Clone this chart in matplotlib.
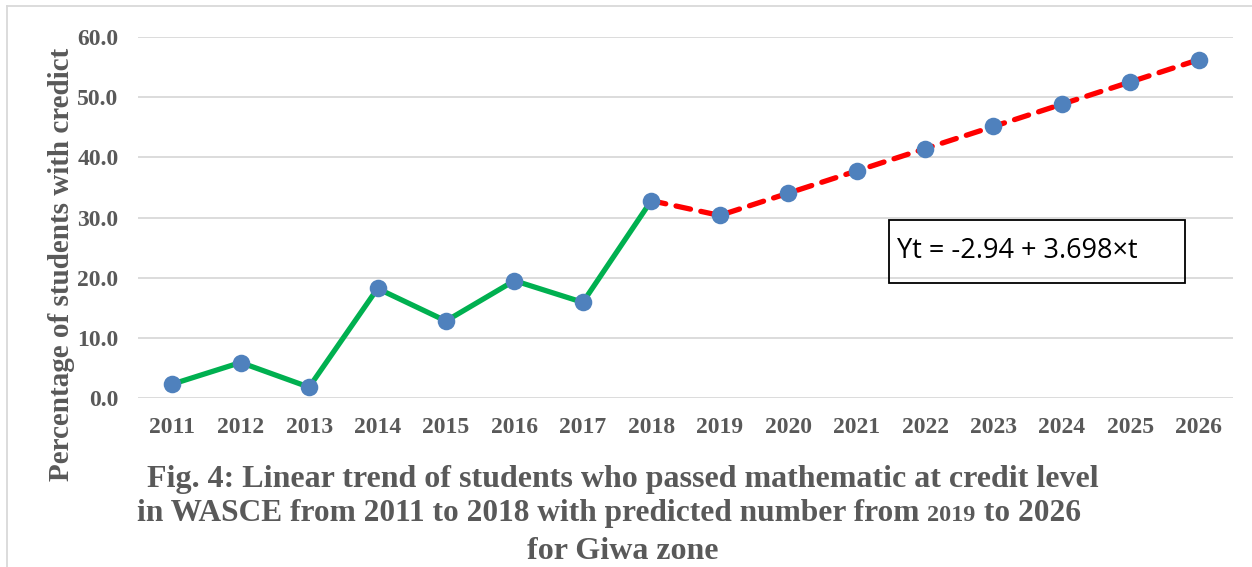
import matplotlib
matplotlib.use("Agg")
import matplotlib.pyplot as plt
from matplotlib.lines import Line2D

# data
years = [str(y) for y in range(2011, 2027)]
actual = [2.3, 5.9, 1.8, 18.2, 12.8, 19.5, 15.9, 32.8]
predicted = [30.34, 34.04, 37.74, 41.44, 45.13, 48.83, 52.53, 56.23]
y_ticks = [0, 10, 20, 30, 40, 50, 60]
equation = "Yt = -2.94 + 3.698×t"

GREY = "#595959"
GRID = "#d9d9d9"
SERIF = ["Liberation Serif", "DejaVu Serif"]

fig = plt.figure(figsize=(12.52, 5.67), dpi=100)
ax = fig.add_axes([138 / 1252, 1 - 398 / 567, (1233 - 138) / 1252, (398 - 37) / 567])

x_act = list(range(len(actual)))
x_pred = list(range(len(actual) - 1, len(actual) + len(predicted)))
y_pred = [actual[-1]] + predicted

ax.plot(x_act, actual, color="#00b050", lw=3.8, solid_capstyle="round", zorder=2)
ax.plot(x_pred, y_pred, color="#ff0000", lw=3.8, ls=(0, (2.8, 2.0)), dash_capstyle="round", zorder=2)
ax.scatter(x_act + x_pred[1:], actual + predicted, s=160, color="#4f81bd", zorder=3, linewidths=0)

ax.set_xlim(-0.5, len(years) - 0.5)
ax.set_ylim(0, 60)
ax.set_yticks(y_ticks)
ax.set_yticklabels([f"{v:.1f}" for v in y_ticks])
ax.set_xticks(range(len(years)))
ax.set_xticklabels(years)
ax.grid(axis="y", color=GRID, lw=1.3)
ax.set_axisbelow(True)
for s in ax.spines.values():
    s.set_visible(False)
ax.tick_params(length=0, labelcolor=GREY, pad=14)
ax.tick_params(axis="y", pad=14)
for lab in ax.get_xticklabels() + ax.get_yticklabels():
    lab.set_family(SERIF)
    lab.set_fontweight("bold")
    lab.set_fontsize(17)

ax.set_ylabel("Percentage of students with credict", family=SERIF, fontweight="bold",
              color=GREY, fontsize=21, labelpad=2, y=0.37)

# equation box
fig.text(897 / 1252, 1 - 251 / 567, equation, family=["Open Sans", "DejaVu Sans"],
         fontsize=19.5, va="center", ha="left", color="black")
fig.patches.append(plt.Rectangle((889 / 1252, 1 - 283 / 567), 296 / 1252, 63 / 567,
                                 transform=fig.transFigure, fill=False, ec="black", lw=1.3))

# caption
cap_kw = dict(family=SERIF, fontweight="bold", color=GREY, fontsize=23, va="baseline")
fig.text(623 / 1252, 1 - 487 / 567,
         "Fig. 4: Linear trend of students who passed mathematic at credit level", ha="center", **cap_kw)
fig.text(623 / 1252, 1 - 559 / 567, "for Giwa zone", ha="center", **cap_kw)

# second caption line: the year 2019 is set in a smaller size
parts = [("in WASCE from 2011 to 2018 with predicted number from ", 22.6),
         ("2019", 17.5),
         (" to 2026", 22.6)]
renderer = fig.canvas.get_renderer()
texts = []
for s, fs in parts:
    kw = dict(cap_kw, fontsize=fs)
    texts.append(fig.text(0, 1 - 521 / 567, s, ha="left", **kw))
widths = [t.get_window_extent(renderer).width for t in texts]
x0 = 609 - sum(widths) / 2
for t, w in zip(texts, widths):
    t.set_x(x0 / 1252)
    x0 += w

# outer frame
fig.lines.append(Line2D([7 / 1252, 1], [1 - 6 / 567, 1 - 6 / 567], transform=fig.transFigure, color=GRID, lw=1.3))
fig.lines.append(Line2D([7 / 1252, 7 / 1252], [0, 1 - 6 / 567], transform=fig.transFigure, color=GRID, lw=1.3))

fig.savefig("out.png", dpi=100)
